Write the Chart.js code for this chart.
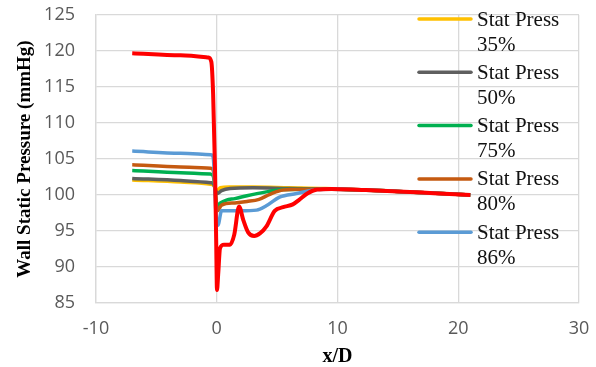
<!DOCTYPE html>
<html>
<head>
<meta charset="utf-8">
<script src="https://cdn.jsdelivr.net/npm/chart.js@4"></script>
<style>
  html, body { margin: 0; padding: 0; background: #fff; }
  #wrap { width: 596px; height: 367px; position: relative; }
</style>
</head>
<body>
<div id="wrap"><canvas id="pressure"></canvas></div>
<script>
// series (x/D, mmHg)
const x35 = [-7, -3, -0.5, -0.3, 0.05, 0.3, 1, 3, 6, 9, 15, 21];
const p35 = [102.1, 101.8, 101.5, 101.4, 100.7, 101.0, 101.1, 101.1, 101.0, 100.9, 100.5, 100.0];

const x50 = [-7, -3, -0.5, -0.3, 0.05, 0.4, 1.1, 3, 6, 9, 15, 21];
const p50 = [102.3, 102.0, 101.7, 101.6, 100.2, 100.6, 100.9, 101.0, 100.9, 100.85, 100.5, 100.0];

const x75 = [-7, -3, -0.5, -0.3, 0.05, 0.3, 0.8, 1.5, 2.5, 4, 5.5, 9, 15, 21];
const p75 = [103.4, 103.1, 102.9, 102.7, 98.5, 98.9, 99.3, 99.5, 99.9, 100.4, 100.75, 100.85, 100.5, 100.0];

const x80 = [-7, -3, -0.5, -0.3, 0.05, 0.4, 1.5, 2.5, 3.5, 4.4, 5.5, 9, 15, 21];
const p80 = [104.2, 103.9, 103.7, 103.5, 97.8, 98.6, 98.9, 99.1, 99.4, 100.1, 100.7, 100.85, 100.5, 100.0];

const x86 = [-7, -3, -0.5, -0.3, -0.05, 0.1, 0.4, 2, 3.3, 4.1, 5.2, 6.6, 8.3, 10, 15, 21];
const p86 = [106.1, 105.8, 105.6, 105.3, 97.0, 95.8, 97.8, 97.8, 97.9, 98.5, 99.7, 100.2, 100.75, 100.85, 100.5, 100.0];

const xRed = [-7, -3, -0.7, -0.45, -0.3, -0.15, -0.05, 0.02, 0.12, 0.27, 0.6, 1.1, 1.45, 1.85, 2.2, 2.6, 3.1, 3.6, 4.1, 4.8, 5.5, 6.3, 6.8, 7.5, 8.3, 9.5, 12, 15, 18, 21];
const pRed = [119.7, 119.4, 119.1, 118.5, 114, 104, 94, 86.8, 89, 92.6, 93.1, 93.1, 94.5, 98.4, 96.5, 94.8, 94.3, 94.7, 95.6, 97.8, 98.3, 98.7, 99.3, 100.2, 100.75, 100.85, 100.7, 100.5, 100.25, 100.0];

const labels = ['Stat Press 35%', 'Stat Press 50%', 'Stat Press 75%', 'Stat Press 80%', 'Stat Press 86%', 'Stat Press'];
const colors = ['#FFC000', '#5f5f5f', '#00B050', '#C55A11', '#5B9BD5', '#FF0000'];
const xs = [x35, x50, x75, x80, x86, xRed];
const ps = [p35, p50, p75, p80, p86, pRed];
const drawOrder = [5, 4, 3, 2, 1, 0];

const xTicks = [-10, 0, 10, 20, 30];
const yTicks = [85, 90, 95, 100, 105, 110, 115, 120, 125];

const datasets = labels.map((label, i) => ({
  label: label,
  data: xs[i].map((x, j) => ({ x: x, y: ps[i][j] })),
  borderColor: colors[i],
  backgroundColor: colors[i],
  borderWidth: i === 5 ? 4 : 3.5,
  pointRadius: 0,
  cubicInterpolationMode: 'monotone',
  order: drawOrder[i],
  inLegend: i < 5
}));

// Excel style legend sitting over the plot, two lines per entry
const overLegend = {
  id: 'overLegend',
  afterDraw(chart) {
    const ctx = chart.ctx;
    ctx.save();
    let y = 19;
    chart.data.datasets.forEach(ds => {
      if (!ds.inLegend) return;
      ctx.strokeStyle = ds.borderColor;
      ctx.lineWidth = 3.5;
      ctx.lineCap = 'round';
      ctx.beginPath();
      ctx.moveTo(419, y);
      ctx.lineTo(471, y);
      ctx.stroke();
      ctx.fillStyle = '#111';
      ctx.font = '21px "Liberation Serif", "Times New Roman", serif';
      ctx.textBaseline = 'middle';
      const parts = ds.label.split(' ');
      ctx.fillText(parts.slice(0, 2).join(' '), 477, y + 1);
      ctx.fillText(parts.slice(2).join(' '), 477, y + 26);
      y += 53.3;
    });
    ctx.restore();
  }
};

const gridColor = '#d9d9d9';
const tickFont = { family: '"Open Sans", sans-serif', size: 18 };

new Chart(document.getElementById('pressure'), {
  type: 'line',
  data: { datasets: datasets },
  options: {
    responsive: true,
    maintainAspectRatio: false,
    animation: false,
    layout: { padding: { top: 15, right: 17, left: 0, bottom: 0 } },
    plugins: {
      legend: { display: false },
      tooltip: { enabled: false }
    },
    scales: {
      x: {
        type: 'linear',
        min: -10,
        max: 30,
        afterBuildTicks: axis => { axis.ticks = xTicks.map(v => ({ value: v })); },
        afterFit: axis => { axis.height = 64; },
        grid: { color: gridColor, lineWidth: 1.3, drawTicks: true, tickLength: 15, tickColor: 'rgba(0,0,0,0)' },
        border: { color: gridColor, width: 1.3 },
        ticks: { color: '#595959', font: tickFont, padding: 0, maxRotation: 0 },
        title: {
          display: true,
          text: 'x/D',
          color: '#000',
          font: { family: '"Liberation Serif", "Times New Roman", serif', size: 20, weight: 'bold', lineHeight: 1 },
          padding: { top: 0, bottom: 0 }
        }
      },
      y: {
        min: 85,
        max: 125,
        afterBuildTicks: axis => { axis.ticks = yTicks.map(v => ({ value: v })); },
        afterFit: axis => { axis.width = 96; },
        grid: { color: gridColor, lineWidth: 1.3, drawTicks: true, tickLength: 21, tickColor: 'rgba(0,0,0,0)' },
        border: { color: gridColor, width: 1.3 },
        ticks: { color: '#595959', font: tickFont, padding: 0 },
        title: {
          display: true,
          text: 'Wall Static Pressure (mmHg)',
          color: '#000',
          font: { family: '"Liberation Serif", "Times New Roman", serif', size: 19, weight: 'bold' },
          padding: { top: 14, bottom: 0 }
        }
      }
    }
  },
  plugins: [overLegend]
});
</script>
</body>
</html>
